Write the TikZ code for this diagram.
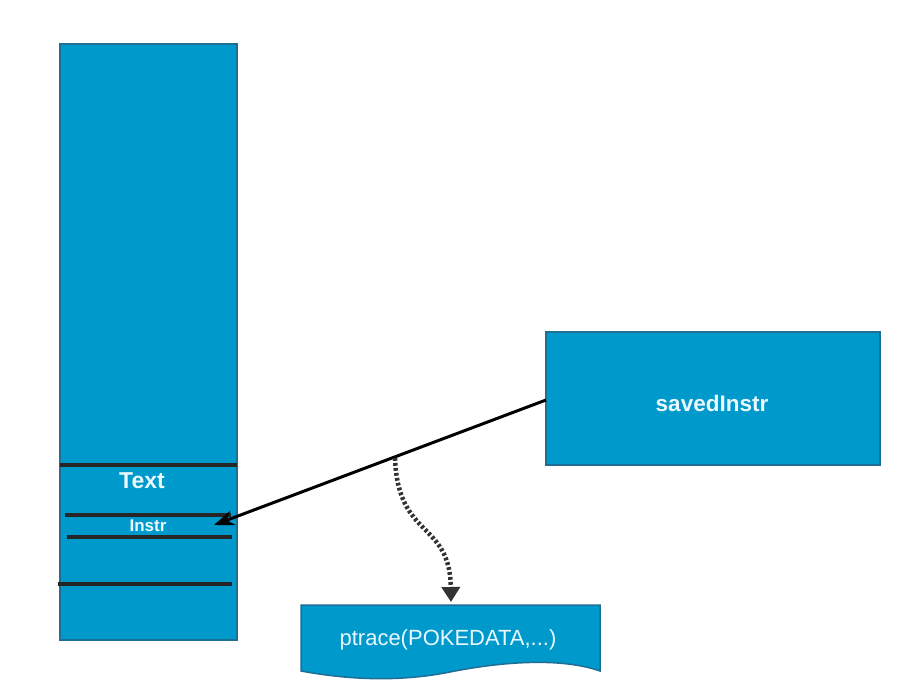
\documentclass[tikz,border=0pt]{standalone}
\usepackage{fontspec}
\setmainfont{Liberation Sans}
\usetikzlibrary{arrows.meta}
\definecolor{boxfill}{HTML}{0099CC}
\definecolor{boxedge}{HTML}{1F6E96}
\definecolor{lbl}{HTML}{EAF8FF}
\begin{document}
\begin{tikzpicture}[x=1pt,y=-1pt,
  blue box/.style={fill=boxfill,draw=boxedge,line width=1.5pt},
  sep line/.style={line width=3.6pt,draw=black!85},
  lbltext/.style={text=lbl,font=\bfseries},
  conn/.style={line width=3pt,-{Stealth[length=20pt,width=15pt]}},
  dotconn/.style={line width=4.5pt,dash pattern=on 2.8pt off 2.2pt,black!80,-{Triangle[length=15pt,width=18pt]}}]
\useasboundingbox (0,0) rectangle (904,695);
% tall memory column
\draw[blue box] (60,44) rectangle (237,640);
\coordinate (l1a) at (60,465); \coordinate (l1b) at (237,465);
\coordinate (l2a) at (65,515); \coordinate (l2b) at (231,515);
\coordinate (l3a) at (67,537); \coordinate (l3b) at (232,537);
\coordinate (l4a) at (58,584); \coordinate (l4b) at (232,584);
\draw[sep line] (l1a) -- (l1b);
\draw[sep line] (l2a) -- (l2b);
\draw[sep line] (l3a) -- (l3b);
\draw[sep line] (l4a) -- (l4b);
\node[lbltext,font=\bfseries\fontsize{23}{26}\selectfont] (text) at (142,481) {Text};
\node[lbltext,font=\bfseries\fontsize{17}{20}\selectfont] (instr) at (148,526) {Instr};
\coordinate (instrend) at (214,525);
% savedInstr box
\draw[blue box] (546,332) rectangle (880,465);
\node[lbltext,font=\bfseries\fontsize{22.5}{25}\selectfont] (saved) at (712,403) {savedInstr};
\coordinate (savedwest) at (546,400);
\draw[conn] (savedwest) -- (instrend);
% ptrace document box
\draw[blue box] (301,605) -- (600,605) -- (600,671)
   .. controls (560,657) and (500,662) .. (450,672)
   .. controls (400,682) and (350,680) .. (301,671) -- cycle;
\node[text=lbl,font=\fontsize{22}{25}\selectfont] (ptrace) at (448,640) {ptrace(POKEDATA,...)};
% dotted curved arrow
\coordinate (dstart) at (395,458);
\coordinate (dend) at (451,602);
\draw[dotconn] (dstart) .. controls (398,540) and (450,520) .. (dend);
\end{tikzpicture}
\end{document}
